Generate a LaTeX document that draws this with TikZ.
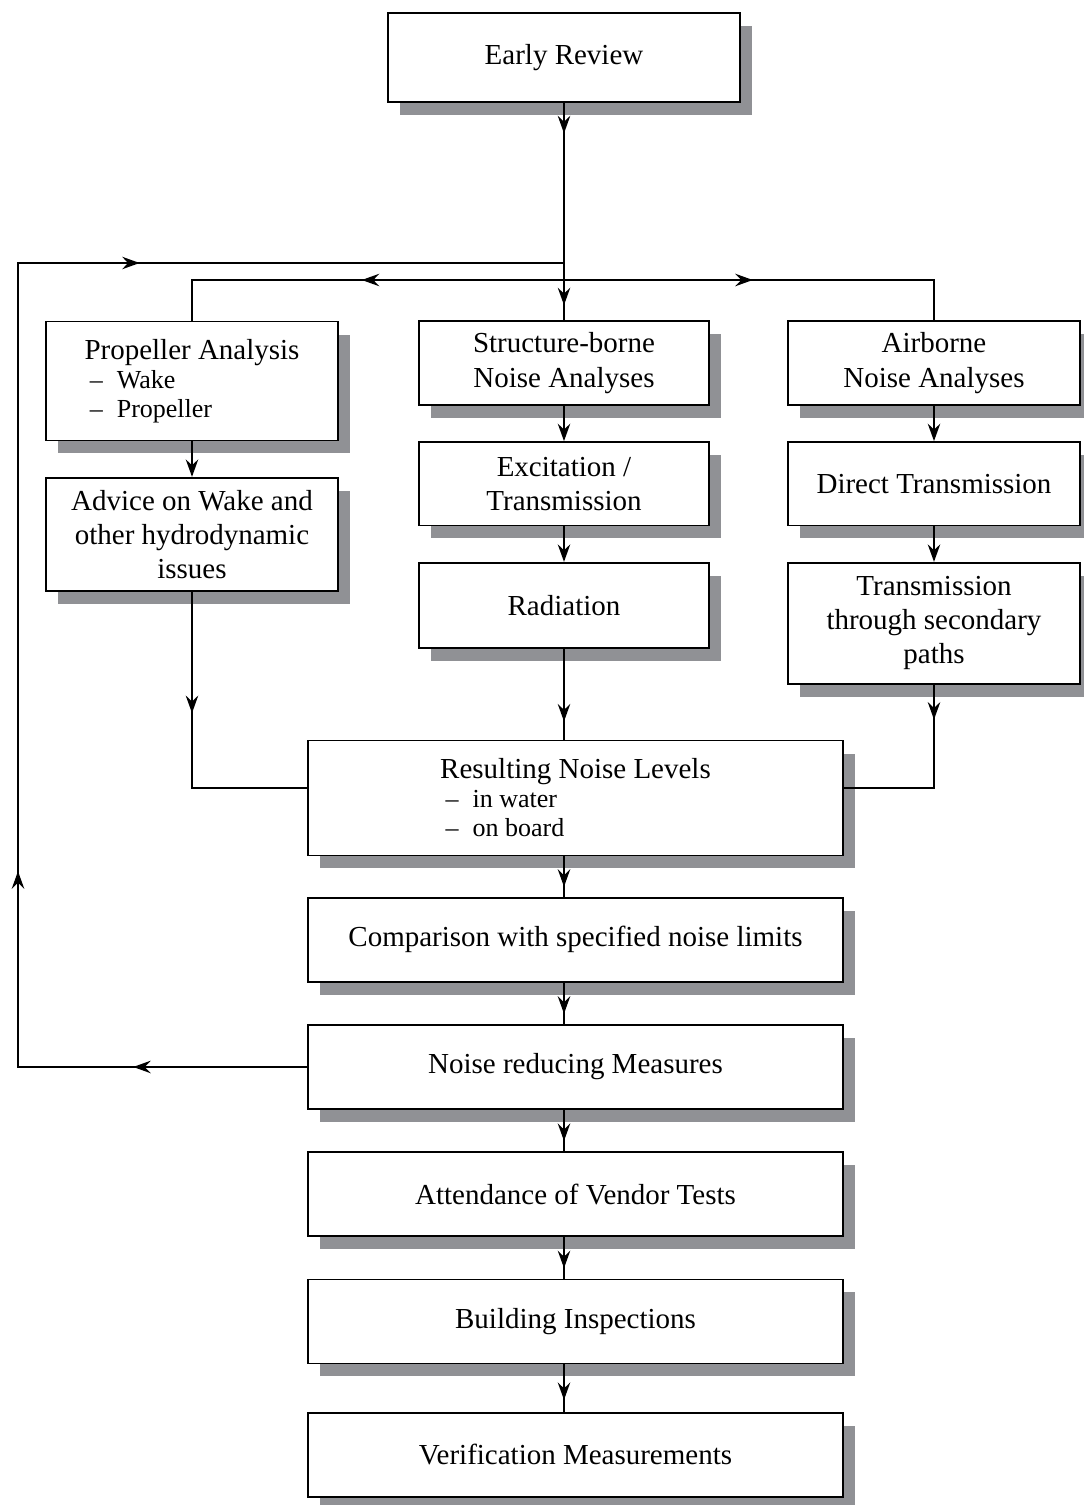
\documentclass[tikz,border=0pt]{standalone}
\usepackage{fontspec}
\setmainfont{Liberation Serif}
\usepackage{tikz}
\usetikzlibrary{arrows.meta,positioning,shadows,decorations.markings}
\definecolor{ShadowGray}{RGB}{144,145,149}
\newcommand{\flowtip}{\arrow{Stealth[length=3.5mm,width=2.5mm,inset=1.2mm]}}
\newcommand{\dashitem}[1]{\hspace*{3pt}{\fontsize{14.8}{17}\selectfont --\hspace{8pt}#1}}

\begin{document}
\begin{tikzpicture}[
  x=0.02cm, y=-0.02cm,
  node distance=7.1mm,
  box/.style={draw,line width=1pt,fill=white,align=center,inner sep=2pt,
    font=\fontsize{16.5}{19.5}\selectfont,
    drop shadow={shadow xshift=2.4mm,shadow yshift=-2.6mm,fill=ShadowGray,opacity=1}},
  colbox/.style={box,minimum width=5.84cm,minimum height=1.67cm},
  widebox/.style={box,minimum width=10.7cm,minimum height=1.68cm},
  line/.style={line width=1pt},
  arrow/.style={line,-{Stealth[length=3.5mm,width=2.5mm,inset=1.2mm]}},
  tips/.style={decoration={markings,#1},postaction={decorate}}
]
\useasboundingbox (0,0) rectangle (1084,1505);

\node[box,minimum width=7.04cm,minimum height=1.78cm] (review) at (564,57.5) {Early Review};

\node[colbox,minimum height=2.38cm,align=left] (prop) at (192,381)
  {Propeller Analysis\\[-3pt] \dashitem{Wake}\\[-3pt] \dashitem{Propeller}};
\node[colbox,minimum height=2.27cm,below=of prop] (advice)
  {Advice on Wake and\\other hydrodynamic\\issues};

\node[colbox,minimum width=5.8cm] (struct) at (564,363) {Structure-borne\\Noise Analyses};
\node[colbox,minimum width=5.8cm,below=of struct] (excit) {Excitation /\\Transmission};
\node[colbox,minimum width=5.8cm,minimum height=1.7cm,below=of excit] (rad) {Radiation};

\node[colbox] (air) at (934,363) {Airborne\\Noise Analyses};
\node[colbox,below=of air] (direct) {Direct Transmission};
\node[colbox,minimum height=2.42cm,below=of direct] (trans)
  {Transmission\\through secondary\\paths};

\node[widebox,minimum height=2.3cm,align=left] (result) at (575.5,798)
  {Resulting Noise Levels\\[-3pt] \dashitem{in water}\\[-3pt] \dashitem{on board}};
\node[widebox,below=8.1mm of result] (comp) {Comparison with specified noise limits};
\node[widebox,below=8.3mm of comp] (reduce) {Noise reducing Measures};
\node[widebox,below=8.3mm of reduce] (vendor) {Attendance of Vendor Tests};
\node[widebox,below=8.3mm of vendor] (inspect) {Building Inspections};
\node[widebox,below=9.5mm of inspect] (verify) {Verification Measurements};

\coordinate (split) at (564,280);
\coordinate (loop) at (18,263);
\coordinate (loopend) at (564,263);

\draw[line,tips={mark=at position 0.14 with {\flowtip},mark=at position 0.93 with {\flowtip}}]
  (review) -- (struct);
\draw[line,tips={mark=at position 0.49 with {\flowtip}}] (split) -| (prop);
\draw[line,tips={mark=at position 0.46 with {\flowtip}}] (split) -| (air);
\draw[line,tips={mark=at position 3.48cm with {\flowtip},mark=at position 9.7cm with {\flowtip},
  mark=at position 24.3cm with {\flowtip}}] (reduce.west) -| (loop) -- (loopend);

\draw[arrow] (prop) -- (advice);
\draw[arrow] (struct) -- (excit);
\draw[arrow] (excit) -- (rad);
\draw[arrow] (air) -- (direct);
\draw[arrow] (direct) -- (trans);

\draw[line,tips={mark=at position 2.42cm with {\flowtip}}] (advice) |- ([yshift=2mm]result.west);
\draw[line,tips={mark=at position 0.8 with {\flowtip}}] (rad) -- (rad |- result.north);
\draw[line,tips={mark=at position 0.7cm with {\flowtip}}] (trans) |- ([yshift=2mm]result.east);

\foreach \a/\b in {result/comp,comp/reduce,reduce/vendor,vendor/inspect,inspect/verify}
  \draw[line,tips={mark=at position 0.75 with {\flowtip}}] (\a.south -| struct) -- (\b.north -| struct);
\end{tikzpicture}
\end{document}
